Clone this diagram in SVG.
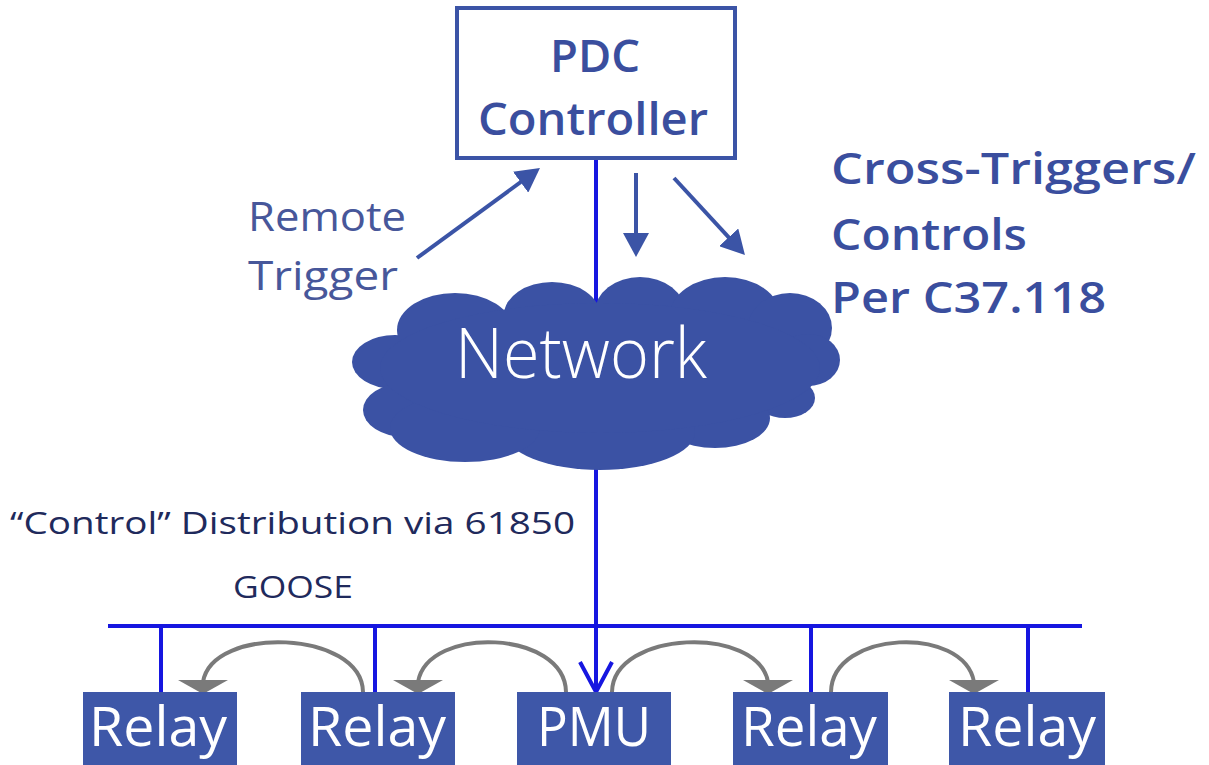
<svg xmlns="http://www.w3.org/2000/svg" width="1209" height="765" viewBox="0 0 1209 765">
  <style>
    .bg { fill: #ffffff; }
    .navy { fill: #3b52a4; }
    .box-outline { fill: #ffffff; stroke: #3b54a6; stroke-width: 4; }
    .dev { fill: #3e57a8; }
    .dev-label { font-family: "Open Sans", "Liberation Sans", sans-serif; font-size: 54px; font-weight: 400; fill: #ffffff; text-anchor: middle; }
    .pdc-label { font-family: "Open Sans", "Liberation Sans", sans-serif; font-size: 46px; font-weight: 600; fill: #3a4e9e; text-anchor: middle; }
    .side-label { font-family: "Open Sans", "Liberation Sans", sans-serif; font-size: 44px; font-weight: 600; fill: #3a4e9e; }
    .remote-label { font-family: "Open Sans", "Liberation Sans", sans-serif; font-size: 40px; font-weight: 400; fill: #47579a; }
    .goose-label { font-family: "Open Sans", "Liberation Sans", sans-serif; font-size: 31px; font-weight: 500; fill: #1f2a5c; }
    .cloud-label { font-family: "Open Sans", "Liberation Sans", sans-serif; font-size: 70px; font-weight: 300; fill: #ffffff; text-anchor: middle; }
    .bus { stroke: #1616e0; stroke-width: 4; fill: none; }
    .ctl { stroke: #3b54a6; stroke-width: 4; fill: none; }
    .peer { stroke: #7a7a7a; stroke-width: 4; fill: none; }
    .peer-head { fill: #7a7a7a; }
  </style>
  <defs>
    <marker id="ctlHead" markerUnits="userSpaceOnUse" markerWidth="24" markerHeight="26" refX="14" refY="13" orient="auto">
      <path d="M0,0 L24,13 L0,26 z" fill="#3b54a6"/>
    </marker>
  </defs>

  <rect class="bg" x="0" y="0" width="1209" height="765"/>

  <!-- links -->
  <g id="connectors">
    <!-- trunk from the PDC down through the network to the station bus -->
    <line class="bus" x1="596" y1="160" x2="596" y2="692"/>
    <polyline class="bus" points="580,662 596,692 612,662"/>
    <!-- station bus and drops -->
    <line class="bus" x1="108" y1="626" x2="1082" y2="626"/>
    <line class="bus" x1="161" y1="626" x2="161" y2="692"/>
    <line class="bus" x1="375" y1="626" x2="375" y2="692"/>
    <line class="bus" x1="811" y1="626" x2="811" y2="692"/>
    <line class="bus" x1="1028" y1="626" x2="1028" y2="692"/>

    <!-- PDC control arrows -->
    <line class="ctl" x1="417" y1="258" x2="531.9" y2="173.9" marker-end="url(#ctlHead)"/>
    <line class="ctl" x1="636" y1="173" x2="636" y2="247" marker-end="url(#ctlHead)"/>
    <line class="ctl" x1="674" y1="178" x2="738.2" y2="247.6" marker-end="url(#ctlHead)"/>

    <!-- peer-to-peer GOOSE hops -->
    <path class="peer" d="M 363 692 C 362 630, 212 625, 203 682"/>
    <polygon class="peer-head" points="178,680 228,680 203,694"/>
    <path class="peer" d="M 566 692 C 565 630, 428 625, 418 682"/>
    <polygon class="peer-head" points="393,680 443,680 418,694"/>
    <path class="peer" d="M 612 692 C 613 630, 758 625, 768 682"/>
    <polygon class="peer-head" points="743,680 793,680 768,694"/>
    <path class="peer" d="M 831 692 C 832 630, 964 625, 974 682"/>
    <polygon class="peer-head" points="949,680 999,680 974,694"/>
  </g>

  <g id="pdc-controller">
    <rect class="box-outline" x="457" y="8" width="278" height="150"/>
    <text class="pdc-label" x="595" y="72" textLength="90" lengthAdjust="spacingAndGlyphs">PDC</text>
    <text class="pdc-label" x="593" y="135" textLength="230" lengthAdjust="spacingAndGlyphs">Controller</text>
  </g>

  <g id="network">
    <g class="navy">
      <ellipse cx="395" cy="362" rx="43" ry="27"/>
      <ellipse cx="405" cy="410" rx="42" ry="27"/>
      <ellipse cx="455" cy="330" rx="58" ry="37"/>
      <ellipse cx="552" cy="315" rx="48" ry="33"/>
      <ellipse cx="640" cy="312" rx="45" ry="35"/>
      <ellipse cx="725" cy="315" rx="55" ry="38"/>
      <ellipse cx="790" cy="328" rx="42" ry="35"/>
      <ellipse cx="808" cy="360" rx="32" ry="26"/>
      <ellipse cx="785" cy="398" rx="30" ry="20"/>
      <ellipse cx="715" cy="418" rx="55" ry="30"/>
      <ellipse cx="600" cy="432" rx="95" ry="38"/>
      <ellipse cx="465" cy="428" rx="75" ry="34"/>
      <ellipse cx="600" cy="368" rx="220" ry="65"/>
    </g>
    <text class="cloud-label" x="581" y="378" textLength="252" lengthAdjust="spacingAndGlyphs">Network</text>
  </g>

  <g id="remote-trigger">
    <text class="remote-label" x="248" y="231" textLength="158" lengthAdjust="spacingAndGlyphs">Remote</text>
    <text class="remote-label" x="248" y="290" textLength="150" lengthAdjust="spacingAndGlyphs">Trigger</text>
  </g>

  <g id="cross-triggers">
    <text class="side-label" x="831" y="184" textLength="365" lengthAdjust="spacingAndGlyphs">Cross-Triggers/</text>
    <text class="side-label" x="831" y="250" textLength="196" lengthAdjust="spacingAndGlyphs">Controls</text>
    <text class="side-label" x="831" y="313" textLength="275" lengthAdjust="spacingAndGlyphs">Per C37.118</text>
  </g>

  <g id="goose-note">
    <text class="goose-label" x="10" y="534" textLength="565" lengthAdjust="spacingAndGlyphs">“Control” Distribution via 61850</text>
    <text class="goose-label" x="233" y="598" textLength="120" lengthAdjust="spacingAndGlyphs">GOOSE</text>
  </g>

  <g id="relay-1">
    <rect class="dev" x="83" y="692" width="154" height="73"/>
    <text class="dev-label" x="158" y="746" textLength="138" lengthAdjust="spacingAndGlyphs">Relay</text>
  </g>
  <g id="relay-2">
    <rect class="dev" x="301" y="692" width="154" height="73"/>
    <text class="dev-label" x="377" y="746" textLength="138" lengthAdjust="spacingAndGlyphs">Relay</text>
  </g>
  <g id="pmu">
    <rect class="dev" x="517" y="692" width="154" height="73"/>
    <text class="dev-label" x="594" y="746" textLength="114" lengthAdjust="spacingAndGlyphs">PMU</text>
  </g>
  <g id="relay-3">
    <rect class="dev" x="733" y="692" width="155" height="73"/>
    <text class="dev-label" x="809" y="746" textLength="136" lengthAdjust="spacingAndGlyphs">Relay</text>
  </g>
  <g id="relay-4">
    <rect class="dev" x="949" y="692" width="156" height="73"/>
    <text class="dev-label" x="1027" y="746" textLength="138" lengthAdjust="spacingAndGlyphs">Relay</text>
  </g>
</svg>
